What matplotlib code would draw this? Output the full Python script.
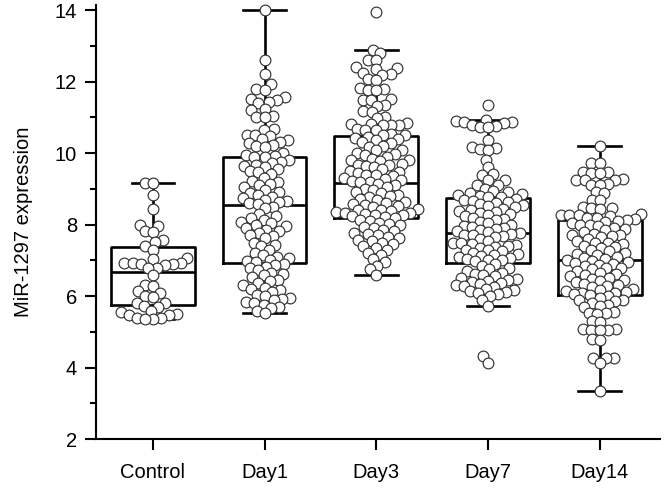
import numpy as np
import matplotlib
matplotlib.use('Agg')
import matplotlib.pyplot as plt
from matplotlib.ticker import MultipleLocator

plt.rcParams['font.family'] = ['Liberation Sans', 'DejaVu Sans']

groups = ['Control', 'Day1', 'Day3', 'Day7', 'Day14']

control = [9.17, 9.17, 8.84, 8.44, 8.0, 7.97, 7.82, 7.8, 7.58, 7.52, 7.4, 7.3,
           7.08, 7.05, 6.93, 6.92, 6.92, 6.9, 6.9, 6.88, 6.8, 6.78, 6.6, 6.3,
           6.27, 6.13, 6.1, 6.0, 5.97, 5.82, 5.8, 5.72, 5.7, 5.58, 5.55, 5.5,
           5.48, 5.46, 5.4, 5.38, 5.36, 5.36]

day1 = [14.0, 12.6, 12.23, 11.93, 11.8, 11.78, 11.56, 11.52, 11.48, 11.44, 11.4,
        11.25, 11.2, 11.05, 11.02, 11.0, 10.68, 10.65, 10.52, 10.5, 10.48, 10.4,
        10.36, 10.32, 10.28, 10.22, 10.2, 10.18, 10.0, 9.96, 9.93, 9.9, 9.88,
        9.8, 9.76, 9.72, 9.68, 9.64, 9.6, 9.55, 9.5, 9.46, 9.42, 9.3, 9.22, 9.18,
        9.14, 9.1, 9.04, 8.96, 8.92, 8.88, 8.84, 8.78, 8.74, 8.7, 8.67, 8.64,
        8.61, 8.58,
        8.5, 8.46, 8.3, 8.23, 8.18, 8.12, 8.08, 8.04, 8.0, 7.95, 7.9, 7.86, 7.82,
        7.78, 7.7, 7.67, 7.62, 7.5, 7.44, 7.4, 7.3, 7.2, 7.14, 7.1, 7.06, 7.02,
        6.99, 6.96,
        6.9, 6.86, 6.82, 6.78, 6.74, 6.66, 6.62, 6.58, 6.54, 6.45, 6.42, 6.38,
        6.3, 6.24, 6.2, 6.16, 6.12, 6.04, 6.0, 5.96, 5.92, 5.88, 5.84, 5.8, 5.76,
        5.7, 5.66, 5.58, 5.53]

day3 = [13.95, 12.9, 12.8, 12.62, 12.6, 12.4, 12.38, 12.36, 12.25, 12.22, 12.2,
        12.08, 12.05, 11.82, 11.8, 11.78, 11.76, 11.52, 11.5, 11.48, 11.35, 11.32,
        11.18, 11.15, 11.0, 10.98, 10.85, 10.83, 10.82, 10.8, 10.8, 10.78, 10.68,
        10.66, 10.64, 10.55, 10.52, 10.5,
        10.45, 10.42, 10.4, 10.38, 10.3, 10.28, 10.2, 10.18, 10.1, 10.08, 10.0,
        9.98, 9.95, 9.9, 9.85, 9.82, 9.8, 9.78, 9.7, 9.68, 9.66, 9.64, 9.62, 9.55,
        9.5, 9.48, 9.45, 9.4, 9.38, 9.35, 9.3, 9.28, 9.25, 9.22, 9.2, 9.18,
        9.15, 9.1, 9.05, 9.0, 8.96, 8.92, 8.88, 8.84, 8.8, 8.76, 8.72, 8.68, 8.64,
        8.6, 8.57, 8.54, 8.51, 8.48, 8.45, 8.42, 8.4, 8.38, 8.36, 8.34, 8.32, 8.3,
        8.28, 8.26, 8.24, 8.22,
        8.18, 8.14, 8.1, 8.06, 8.02, 7.98, 7.94, 7.9, 7.86, 7.82, 7.78, 7.74, 7.7,
        7.66, 7.62, 7.58, 7.54, 7.5, 7.45, 7.4, 7.35, 7.3, 7.22, 7.15, 7.05, 6.95,
        6.85, 6.75, 6.6]

day7 = [11.34, 10.94, 10.9, 10.88, 10.86, 10.84, 10.78, 10.76, 10.74, 10.72,
        10.38, 10.16, 10.14, 10.12, 10.1, 9.82, 9.6, 9.42, 9.4, 9.26, 9.24, 9.12,
        9.1, 9.0, 8.95, 8.9, 8.88, 8.85, 8.82, 8.8, 8.78, 8.76,
        8.72, 8.69, 8.66, 8.63, 8.6, 8.57, 8.54, 8.51, 8.48, 8.45, 8.42, 8.39,
        8.36, 8.33, 8.3, 8.27, 8.24, 8.2, 8.16, 8.12, 8.08, 8.04, 8.0, 7.97, 7.94,
        7.91, 7.88, 7.85, 7.82, 7.8,
        7.76, 7.74, 7.72, 7.7, 7.68, 7.65, 7.6, 7.55, 7.5, 7.48, 7.45, 7.42, 7.4,
        7.38, 7.35, 7.3, 7.28, 7.25, 7.2, 7.18, 7.15, 7.12, 7.1, 7.08, 7.05, 7.02,
        7.0, 6.97,
        6.9, 6.85, 6.8, 6.75, 6.7, 6.65, 6.62, 6.6, 6.55, 6.5, 6.48, 6.45, 6.42,
        6.4, 6.38, 6.35, 6.3, 6.28, 6.25, 6.2, 6.18, 6.15, 6.12, 6.1, 6.05, 6.0,
        5.9, 5.73, 4.31, 4.12]

day14 = [10.2, 9.73, 9.72, 9.47, 9.46, 9.45, 9.44, 9.27, 9.26, 9.25, 9.24, 9.13,
         9.12, 9.11, 8.9, 8.88, 8.7, 8.68, 8.48, 8.47, 8.46, 8.45, 8.3, 8.28,
         8.27, 8.26, 8.25, 8.2, 8.18, 8.16,
         8.12, 8.1, 8.08, 8.05, 8.0, 7.98, 7.95, 7.9, 7.88, 7.85, 7.8, 7.75, 7.72,
         7.7, 7.68, 7.65, 7.6, 7.55, 7.5, 7.48, 7.45, 7.4, 7.38, 7.35, 7.3, 7.25,
         7.2, 7.18, 7.15, 7.1, 7.08, 7.05,
         7.0, 6.98, 6.95, 6.92, 6.9, 6.88, 6.85, 6.8, 6.78, 6.75, 6.7, 6.65, 6.62,
         6.6, 6.55, 6.5, 6.48, 6.45, 6.42, 6.4, 6.35, 6.3, 6.28, 6.25, 6.2, 6.18,
         6.15, 6.12, 6.1, 6.08, 6.06,
         6.02, 6.0, 5.95, 5.9, 5.88, 5.85, 5.8, 5.75, 5.72, 5.7, 5.55, 5.53, 5.52,
         5.5, 5.3, 5.28, 5.08, 5.07, 5.06, 5.05, 5.04, 4.8, 4.78, 4.28, 4.27, 4.26,
         4.13, 3.35]

values = [control, day1, day3, day7, day14]

# box statistics
q1 = [5.74, 6.93, 8.2, 6.94, 6.04]
med = [6.67, 8.56, 9.17, 7.77, 7.02]
q3 = [7.38, 9.88, 10.48, 8.74, 8.14]
whislo = [5.36, 5.53, 6.6, 5.73, 3.35]
whishi = [9.17, 14.0, 12.9, 10.94, 10.2]


def swarm_x(ax, vals, center, d):
    # simple beeswarm in pixel space, d = collision distance (px)
    vals = np.asarray(vals, float)
    pts = ax.transData.transform(np.column_stack([np.full(len(vals), center), vals]))
    cx = pts[0, 0]
    xs = np.zeros(len(vals))
    placed = []
    for i in np.argsort(vals):
        y = pts[i, 1]
        near = [(px, py) for px, py in placed if abs(py - y) < d]
        cands = [cx]
        for px, py in near:
            dx = np.sqrt(d**2 - (py - y)**2)
            cands += [px - dx, px + dx]
        cands.sort(key=lambda c: abs(c - cx))
        for c in cands:
            if all((c - px)**2 + (y - py)**2 >= d**2 - 1e-6 for px, py in near):
                break
        placed.append((c, y))
        xs[i] = c
    return ax.transData.inverted().transform(np.column_stack([xs, pts[:, 1]]))[:, 0]


fig = plt.figure(figsize=(6.66, 4.9), dpi=100)
ax = fig.add_axes([0.144, 0.104, 0.847, 0.886])
ax.set_xlim(-0.51, 4.54)
ax.set_ylim(2, 14.15)

stats = []
for i in range(len(groups)):
    stats.append(dict(med=med[i], q1=q1[i], q3=q3[i], whislo=whislo[i],
                      whishi=whishi[i], fliers=[]))
lp = dict(color='black', linewidth=1.9, zorder=1)
ax.bxp(stats, positions=range(len(groups)), widths=0.75, capwidths=0.38,
       showfliers=False, boxprops=lp, whiskerprops=lp, capprops=lp,
       medianprops=lp)

for i, v in enumerate(values):
    xs = swarm_x(ax, v, i, 8.2)
    ax.scatter(xs, v, s=60, facecolor='white', edgecolor='#333333',
               linewidth=0.85, zorder=3, clip_on=False)

ax.set_xlim(-0.51, 4.54)
ax.set_ylim(2, 14.15)
ax.set_xticks(range(len(groups)))
ax.set_xticklabels(groups)
ax.set_yticks(range(2, 15, 2))
ax.yaxis.set_minor_locator(MultipleLocator(1))
ax.tick_params(axis='y', which='major', length=8, width=1.5, labelsize=14.5, pad=5.5)
ax.tick_params(axis='y', which='minor', length=4.5, width=1.5)
ax.tick_params(axis='x', which='major', length=8, width=1.5, labelsize=14.5, pad=9.5)
for s in ['top', 'right']:
    ax.spines[s].set_visible(False)
for s in ['left', 'bottom']:
    ax.spines[s].set_linewidth(1.5)

ax.set_ylabel('MiR-1297 expression', fontsize=14.5)
ax.yaxis.set_label_coords(-0.112, 0.5)

fig.savefig('out.png', dpi=100)
